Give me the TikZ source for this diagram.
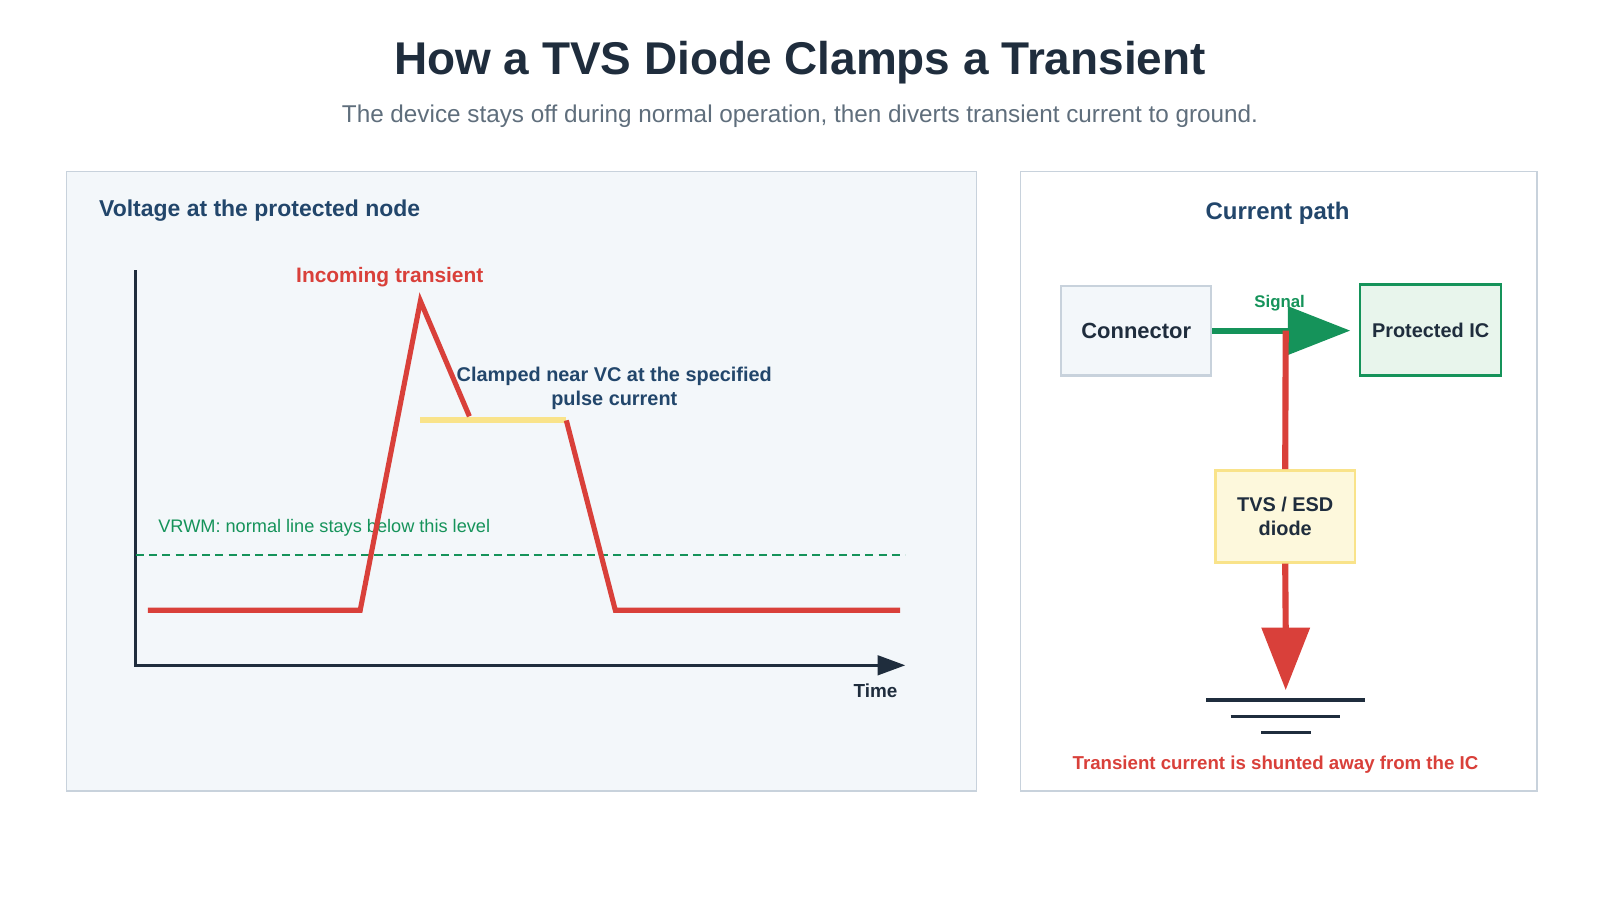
\documentclass[tikz,border=0pt]{standalone}
\usepackage{fontspec}
\setmainfont{Liberation Sans}
\begin{document}
\definecolor{dark}{HTML}{1F2D3D}
\definecolor{sub}{HTML}{5F6E7C}
\definecolor{navy}{HTML}{22466B}
\definecolor{pbord}{HTML}{C8D2DC}
\definecolor{pfill}{HTML}{F3F7FA}
\definecolor{grn}{HTML}{15935A}
\definecolor{rd}{HTML}{D9403A}
\definecolor{yl}{HTML}{F9E38A}
\definecolor{ylf}{HTML}{FDF8DC}
\definecolor{gf}{HTML}{E8F5EC}
\begin{tikzpicture}[x=1pt,y=-1pt,
  lbl/.style={font=\bfseries\fontsize{#1}{#1}\selectfont,inner sep=0pt},
  box/.style={draw=#1,line width=2pt,minimum width=0,inner sep=0pt,align=center}]
\useasboundingbox (0,0) rectangle (1568,882);
\fill[white] (0,0) rectangle (1568,882);
\node[lbl=45,text=dark] (title) at (784,61) {How a TVS Diode Clamps a Transient};
\node[font=\fontsize{23.8}{23.8}\selectfont,text=sub,inner sep=0pt] (subt) at (784,114) {The device stays off during normal operation, then diverts transient current to ground.};
% panels
\draw[pbord,fill=pfill,line width=1.5pt] (65,168) rectangle (957,775);
\draw[pbord,fill=white,line width=1.5pt] (1000,168) rectangle (1506,775);
\node[lbl=22.5,text=navy,anchor=west] (lt) at (97,206) {Voltage at the protected node};
% axes
\draw[dark,line width=2.5pt] (133,265) -- (133,652) -- (862,652);
\fill[dark] (860,642) -- (887,652) -- (860,662) -- cycle;
\node[lbl=18.5,text=dark] (time) at (858,677) {Time};
\draw[grn,line width=2pt,dash pattern=on 8pt off 5pt] (133,544) -- (887,544);
\node[font=\fontsize{17.8}{17.8}\selectfont,text=grn,anchor=west,inner sep=0pt] (vr) at (155,517) {VRWM: normal line stays below this level};
\draw[yl,line width=6pt] (412,412) -- (555,412);
\draw[rd,line width=5pt,line join=miter] (145,598) -- (353,598) -- (412,295) -- (460,408);
\draw[rd,line width=5pt,line join=miter] (555,412) -- (603,598) -- (882,598);
\node[lbl=20.5,text=rd] (inc) at (382,272) {Incoming transient};
\node[lbl=19.5,text=navy,align=center] (clamp) at (602,381) {Clamped near VC at the specified\\[4pt]pulse current};
% right
\node[lbl=23.5,text=navy] (cp) at (1252,209) {Current path};
\node[box=pbord,fill=pfill,minimum width=147pt,minimum height=88pt,lbl=21.5,text=dark] (con) at (1113.5,324) {Connector};
\node[box=grn,fill=gf,minimum width=138pt,minimum height=89pt,lbl=19.5,text=dark,line width=2.5pt] (ic) at (1402,323.5) {Protected IC};
\node[box=yl,fill=ylf,minimum width=137pt,minimum height=90pt,lbl=19.5,text=dark,line width=2.5pt,align=center] (tvs) at (1259.5,506) {TVS / ESD\\[4pt]diode};
\coordinate (j) at (1260,324);
\draw[grn,line width=6pt] (con.east) -- (1265,324);
\fill[grn] (1262,300) -- (1323,324) -- (1262,348) -- cycle;
\node[lbl=16.5,text=grn] (sig) at (1254,297) {Signal};
\draw[rd,line width=6pt] (j) -- (tvs.north);
\coordinate (g) at (1260,618);
\draw[rd,line width=6pt] (tvs.south) -- (g);
\fill[rd] (1236,615) -- (1284,615) -- (1260,676) -- cycle;
\draw[dark,line width=3.5pt] (1182,686) -- (1338,686) (1206,702) -- (1313,702) (1236,718) -- (1285,718);
\node[lbl=18.3,text=rd] (sh) at (1250,749) {Transient current is shunted away from the IC};
\end{tikzpicture}
\end{document}
